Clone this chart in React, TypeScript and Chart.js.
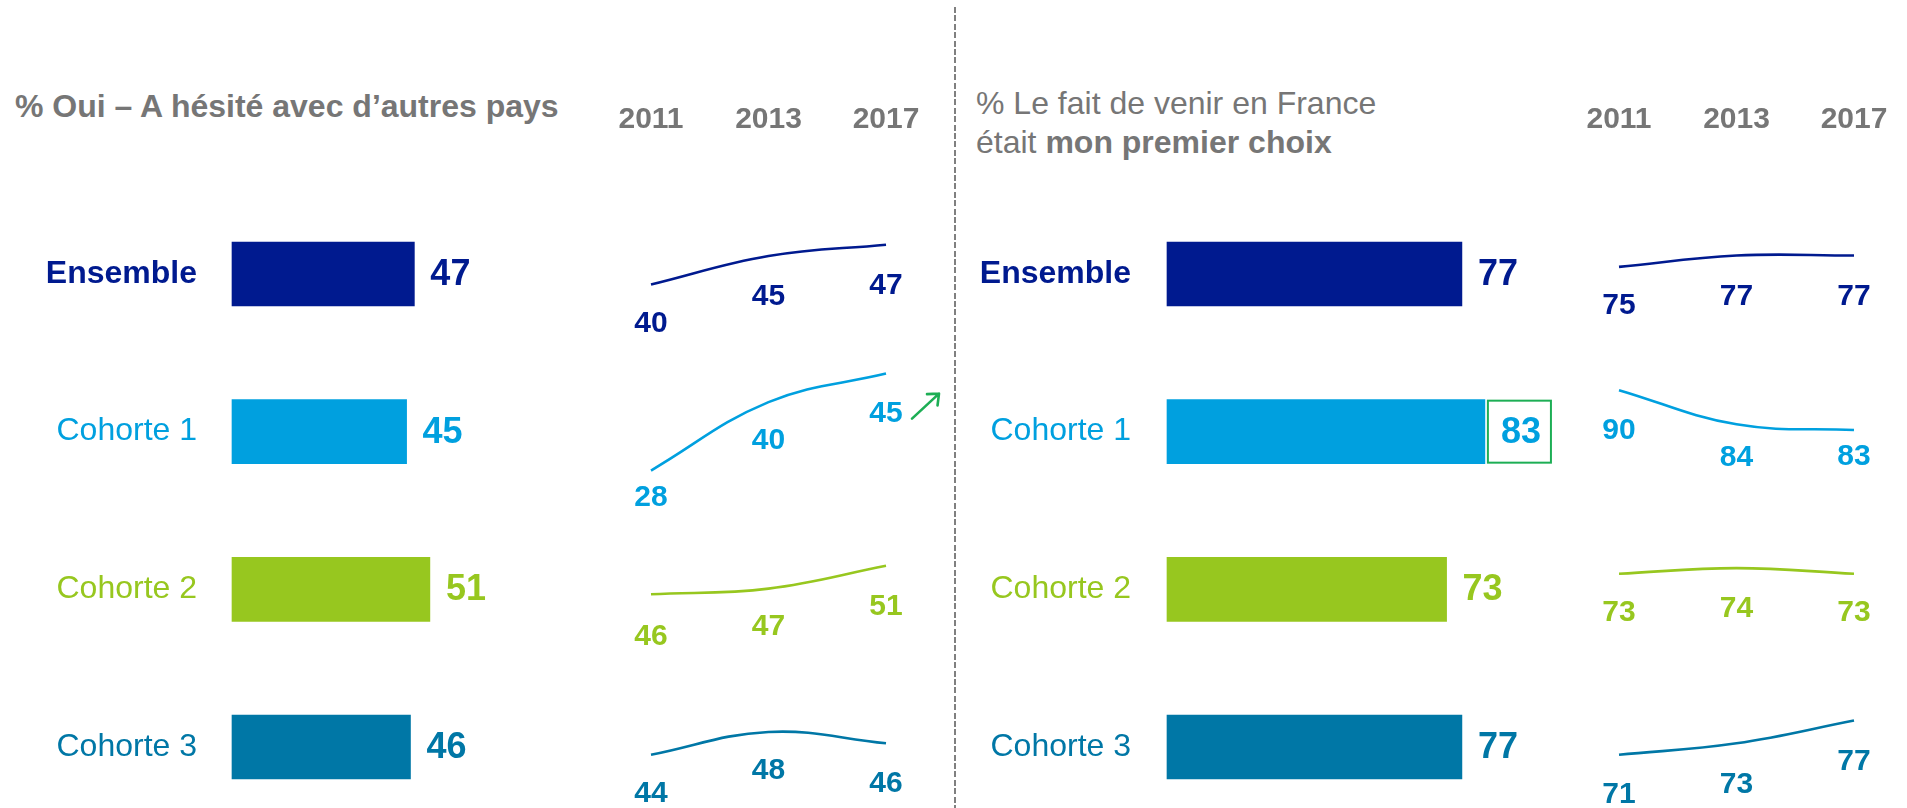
import React, { useEffect, useRef } from "react";
import { Chart, registerables } from "chart.js";

Chart.register(...registerables);

const FONT = "'Liberation Sans', Arial, Helvetica, sans-serif";
const GRAY = "#767676";
const HIGHLIGHT = "#1DAE55";

// ---------- data ----------
const rowLabels = ["Ensemble", "Cohorte 1", "Cohorte 2", "Cohorte 3"];
const rowColors = ["#001A8F", "#00A0DF", "#97C71F", "#0077A6"];
const years = ["2011", "2013", "2017"];

// Left panel: % Oui – A hésité avec d'autres pays
const hesiteValues = [47, 45, 51, 46];
const hesiteEnsemble = [40, 45, 47];
const hesiteCohorte1 = [28, 40, 45];
const hesiteCohorte2 = [46, 47, 51];
const hesiteCohorte3 = [44, 48, 46];

// Right panel: % Le fait de venir en France était mon premier choix
const premierValues = [77, 83, 73, 77];
const premierEnsemble = [75, 77, 77];
const premierCohorte1 = [90, 84, 83];
const premierCohorte2 = [73, 74, 73];
const premierCohorte3 = [71, 73, 77];

// y-axis windows of the small trend charts (upper bound; window = 30 points)
const hesiteSparkMax = [59.4, 52.3, 64.3, 62.9];
const premierSparkMax = [91.3, 100.2, 87.7, 89.9];
const SPARK_RANGE = 30;

// vertical distance (px) of each value label below its point
const hesiteLabelDy = [
  [39, 41, 41],
  [27, 39, 40],
  [42, 38, 41],
  [39, 39, 40],
];
const premierLabelDy = [
  [39, 41, 41],
  [41, 33, 27],
  [39, 41, 39],
  [40, 41, 41],
];

// ---------- plugins ----------
const barValuePlugin = {
  id: "barValues",
  afterDatasetsDraw(chart: any, _args: any, opts: any) {
    const ctx = chart.ctx;
    const meta = chart.getDatasetMeta(0);
    const ds = chart.data.datasets[0];
    ctx.save();
    ctx.font = `bold 36px ${FONT}`;
    ctx.textBaseline = "middle";
    ctx.textAlign = "left";
    meta.data.forEach((bar: any, i: number) => {
      const text = String(ds.data[i]);
      const x = bar.x + 16;
      ctx.fillStyle = rowColors[i];
      ctx.fillText(text, x, bar.y + 1);
      if (opts && opts.highlight === i) {
        const w = ctx.measureText(text).width;
        const h = bar.height;
        ctx.strokeStyle = HIGHLIGHT;
        ctx.lineWidth = 2;
        ctx.strokeRect(x - 13, bar.y - h / 2 + 1, w + 23, h - 2);
      }
    });
    ctx.restore();
  },
};

const sparkLabelPlugin = {
  id: "sparkLabels",
  afterDatasetsDraw(chart: any, _args: any, opts: any) {
    const ctx = chart.ctx;
    const meta = chart.getDatasetMeta(0);
    const ds = chart.data.datasets[0];
    const dy: number[] = (opts && opts.dy) || [];
    ctx.save();
    ctx.font = `bold 30px ${FONT}`;
    ctx.textBaseline = "middle";
    ctx.textAlign = "center";
    ctx.fillStyle = ds.borderColor;
    meta.data.forEach((pt: any, i: number) => {
      ctx.fillText(String(ds.data[i]), pt.x, pt.y + (dy[i] ?? 39));
    });
    if (opts && opts.arrow) {
      const last = meta.data[meta.data.length - 1];
      const tx = last.x + 26, ty = last.y + 45;
      const hx = last.x + 53, hy = last.y + 20;
      const ang = Math.atan2(ty - hy, tx - hx);
      ctx.strokeStyle = HIGHLIGHT;
      ctx.lineWidth = 2.6;
      ctx.lineCap = "round";
      ctx.beginPath();
      ctx.moveTo(tx, ty);
      ctx.lineTo(hx, hy);
      for (const s of [-1, 1]) {
        ctx.moveTo(hx, hy);
        ctx.lineTo(hx + 12 * Math.cos(ang + s * 0.7), hy + 12 * Math.sin(ang + s * 0.7));
      }
      ctx.stroke();
    }
    ctx.restore();
  },
};

// ---------- components ----------
type BarProps = {
  values: number[];
  left: number;
  width: number;
  axisWidth: number;
  padRight: number;
  labelPad: number;
  highlight?: number;
};

function BarPanel({ values, left, width, axisWidth, padRight, labelPad, highlight }: BarProps) {
  const ref = useRef<HTMLCanvasElement>(null);
  useEffect(() => {
    const chart = new Chart(ref.current as HTMLCanvasElement, {
      type: "bar",
      data: {
        labels: rowLabels,
        datasets: [
          {
            data: values,
            backgroundColor: rowColors,
            borderWidth: 0,
            barThickness: 64,
            clip: false as any,
          },
        ],
      },
      options: {
        indexAxis: "y",
        responsive: false,
        animation: false,
        events: [],
        layout: { padding: { top: 274, bottom: 61, left: 0, right: padRight } },
        scales: {
          x: { display: false, min: 0, max: 100 },
          y: {
            type: "category",
            offset: false,
            grid: { display: false, drawTicks: false },
            border: { display: false },
            ticks: {
              autoSkip: false,
              padding: labelPad,
              color: (c: any) => rowColors[c.index],
              font: (c: any) => ({ family: FONT, size: 32, weight: c.index === 0 ? "bold" : "normal" }),
            },
            afterFit: (s: any) => {
              s.width = axisWidth;
            },
          },
        },
        plugins: {
          legend: { display: false },
          tooltip: { enabled: false },
          barValues: { highlight },
        } as any,
      },
      plugins: [barValuePlugin],
    });
    return () => chart.destroy();
  }, []);
  return (
    <canvas
      ref={ref}
      width={width}
      height={808}
      style={{ position: "absolute", left, top: 0, width, height: 808 }}
    />
  );
}

type SparkProps = {
  values: number[];
  color: string;
  yMax: number;
  row: number;
  left: number;
  width: number;
  padLeft: number;
  padRight: number;
  dy: number[];
  arrow?: boolean;
};

const SPARK_TOPS = [74, 232, 390, 547];

function Spark({ values, color, yMax, row, left, width, padLeft, padRight, dy, arrow }: SparkProps) {
  const ref = useRef<HTMLCanvasElement>(null);
  const showYears = row === 0;
  useEffect(() => {
    const chart = new Chart(ref.current as HTMLCanvasElement, {
      type: "line",
      data: {
        labels: years,
        datasets: [
          {
            data: values,
            borderColor: color,
            borderWidth: 2.6,
            pointRadius: 0,
            tension: 0.4,
            fill: false,
            clip: false as any,
          },
        ],
      },
      options: {
        responsive: false,
        animation: false,
        events: [],
        layout: { padding: { top: showYears ? 0 : 100, bottom: 70, left: padLeft, right: padRight } },
        scales: {
          x: {
            display: showYears,
            position: "top",
            offset: false,
            grid: { display: false, drawTicks: false },
            border: { display: false },
            ticks: {
              color: GRAY,
              padding: 36,
              autoSkip: false,
              maxRotation: 0,
              font: { family: FONT, size: 30, weight: "bold" },
            },
            afterFit: (s: any) => {
              if (showYears) s.height = 100;
            },
          },
          y: { display: false, min: yMax - SPARK_RANGE, max: yMax },
        },
        plugins: {
          legend: { display: false },
          tooltip: { enabled: false },
          sparkLabels: { arrow: !!arrow, dy },
        } as any,
      },
      plugins: [sparkLabelPlugin],
    });
    return () => chart.destroy();
  }, []);
  return (
    <canvas
      ref={ref}
      width={width}
      height={341}
      style={{ position: "absolute", left, top: SPARK_TOPS[row], width, height: 341 }}
    />
  );
}

const hesiteSeries = [hesiteEnsemble, hesiteCohorte1, hesiteCohorte2, hesiteCohorte3];
const premierSeries = [premierEnsemble, premierCohorte1, premierCohorte2, premierCohorte3];

export default function App() {
  useEffect(() => {
    document.body.style.margin = "0";
  }, []);
  return (
    <div
      style={{
        position: "fixed",
        left: 0,
        top: 0,
        width: 1907,
        height: 808,
        overflow: "hidden",
        background: "#ffffff",
        fontFamily: FONT,
      }}
    >
      <div
        style={{
          position: "absolute",
          left: 15,
          top: 87,
          fontSize: 32,
          lineHeight: "39px",
          fontWeight: "bold",
          color: GRAY,
          whiteSpace: "nowrap",
        }}
      >
        % Oui – A hésité avec d’autres pays
      </div>
      <div
        style={{
          position: "absolute",
          left: 976,
          top: 84,
          fontSize: 32,
          lineHeight: "39px",
          color: GRAY,
          whiteSpace: "nowrap",
        }}
      >
        % Le fait de venir en France
        <br />
        était <b>mon premier choix</b>
      </div>
      <div
        style={{
          position: "absolute",
          left: 954,
          top: 7,
          width: 2,
          height: 801,
          background: "repeating-linear-gradient(to bottom, #808080 0px, #808080 6px, transparent 6px, transparent 8.4px)",
        }}
      />
      <BarPanel values={hesiteValues} left={0} width={950} axisWidth={232} padRight={330} labelPad={35} />
      <BarPanel
        values={premierValues}
        left={960}
        width={947}
        axisWidth={207}
        padRight={357}
        labelPad={36}
        highlight={1}
      />
      {hesiteSeries.map((s, i) => (
        <Spark
          key={"h" + i}
          values={s}
          color={rowColors[i]}
          yMax={hesiteSparkMax[i]}
          row={i}
          left={560}
          width={420}
          padLeft={91}
          padRight={94}
          dy={hesiteLabelDy[i]}
          arrow={i === 1}
        />
      ))}
      {premierSeries.map((s, i) => (
        <Spark
          key={"p" + i}
          values={s}
          color={rowColors[i]}
          yMax={premierSparkMax[i]}
          row={i}
          left={1530}
          width={410}
          padLeft={89}
          padRight={86}
          dy={premierLabelDy[i]}
        />
      ))}
    </div>
  );
}
